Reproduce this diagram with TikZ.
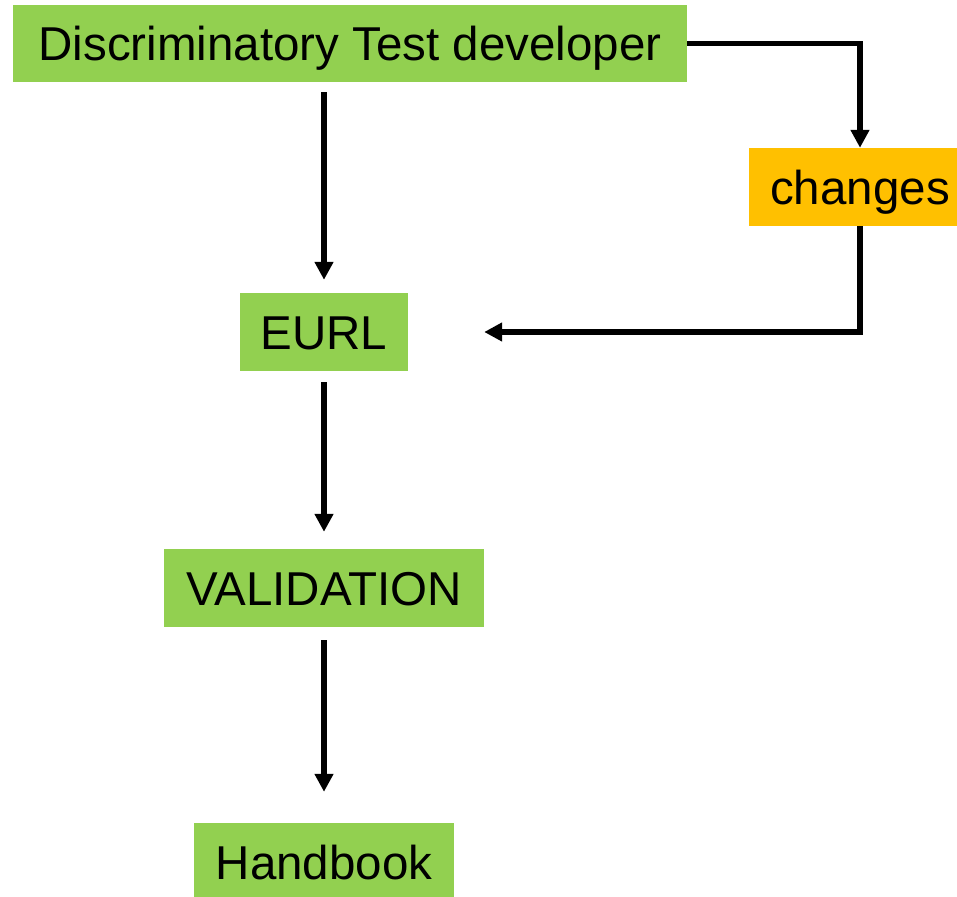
\documentclass[tikz,border=0pt]{standalone}
\usepackage{fontspec}
\setmainfont{Liberation Sans}
\usetikzlibrary{arrows.meta}

\definecolor{boxgreen}{HTML}{92D050}
\definecolor{boxorange}{HTML}{FFC000}

\tikzset{
	greenbox/.style={fill=boxgreen,inner sep=0pt,minimum height=78pt,text height=34pt,text depth=0pt,font=\fontsize{47.5}{52}\selectfont},
	orangebox/.style={fill=boxorange,inner sep=0pt,minimum height=78pt,text height=34pt,text depth=0pt,font=\fontsize{47.5}{52}\selectfont},
	flow/.style={line width=5.5pt,-{Triangle[width=18pt,length=18pt]}}
}

\begin{document}
\begin{tikzpicture}[x=1pt,y=-1pt]

\clip (0,0) rectangle (957,896);

%boxes
\node[greenbox,minimum width=674pt,minimum height=77pt](dev) at (350,43.5){Discriminatory Test developer};
\node[orangebox,minimum width=222pt](chg) at (860,187){changes};
\node[greenbox,minimum width=168pt](eurl) at (324,332){EURL};
\node[greenbox,minimum width=320pt](valid) at (324,588){VALIDATION};
\node[greenbox,minimum width=260pt](hand) at (324,862){Handbook};

%main flow
\draw[flow,shorten <=10pt,shorten >=13pt](eurl |- dev.south)--(eurl.north);
\draw[flow,shorten <=11pt,shorten >=17pt](eurl.south)--(valid.north);
\draw[flow,shorten <=13pt,shorten >=31pt](valid.south)--(hand.north);

%side loop through changes
\draw[flow](dev.east)-|(chg.north);
\draw[flow,shorten >=76pt](chg.south)|-(eurl.east);

\end{tikzpicture}
\end{document}
